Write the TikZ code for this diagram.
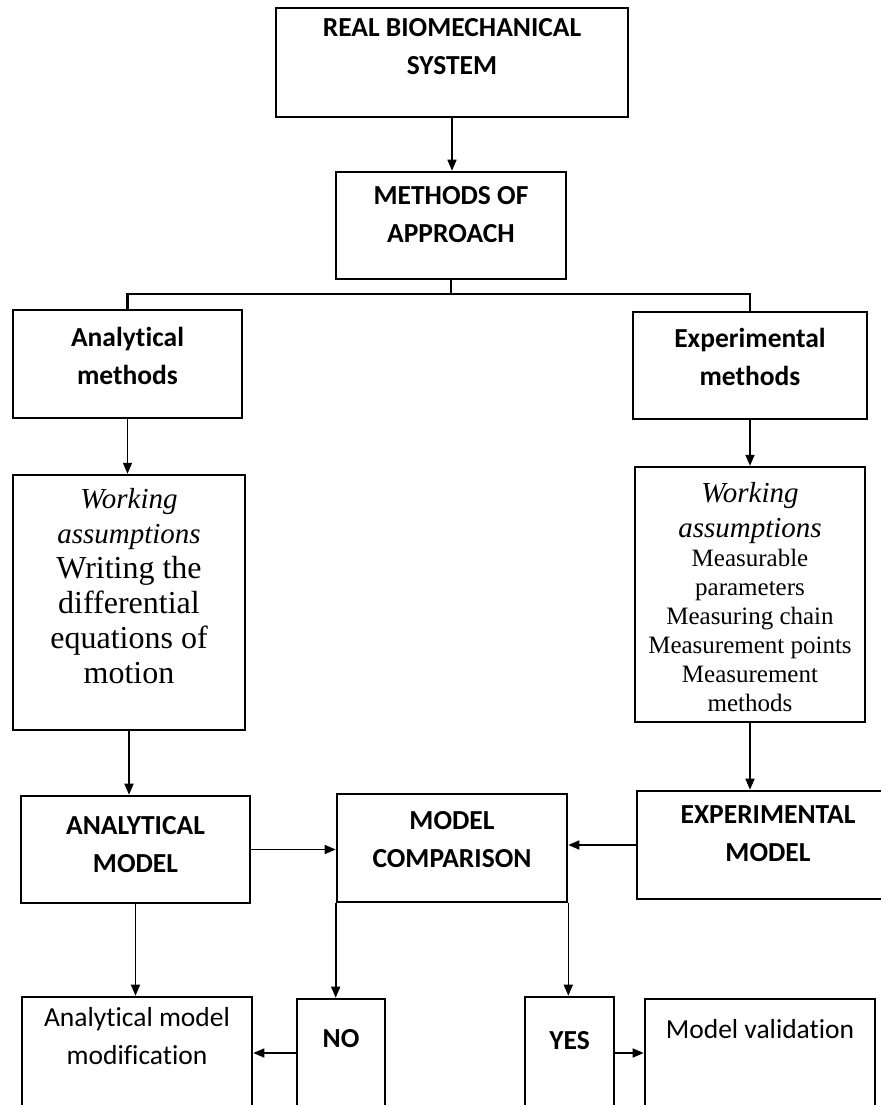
\documentclass[tikz,border=0pt]{standalone}
\usepackage{fontspec}
\setmainfont{Liberation Serif}
\newfontfamily\calibri{Carlito}[Ligatures=NoCommon]
\usepackage{tikz}
\usetikzlibrary{arrows.meta}
\tikzset{
    block/.style={draw, line width=1.3pt, inner sep=0pt, font=\calibri\bfseries\fontsize{13.75}{19}\selectfont},
    plain block/.style={block, font=\calibri\fontsize{13.75}{19}\selectfont},
    work block/.style={draw, line width=1.2pt, inner sep=0pt, font=\itshape\fontsize{14.5}{17.5}\selectfont},
    flow/.style={line width=0.8pt, -{Triangle[length=5.5pt,width=4.5pt]}},
    branch/.style={line width=1.1pt}
}
% width, height, space above first line, text
\newcommand{\boxtext}[4]{\parbox[c][#2][t]{#1}{\centering\vspace*{#3}\strut#4}}

\begin{document}
\begin{tikzpicture}[x=0.5pt,y=-0.5pt]
    \useasboundingbox (0,0) rectangle (881,1105);
    \node[block] (sys) at (452,62.5) {\boxtext{176pt}{54.5pt}{0.7pt}{REAL BIOMECHANICAL\\ SYSTEM}};
    \node[block] (meth) at (451,225.5) {\boxtext{115pt}{53.5pt}{2.7pt}{METHODS OF\\ APPROACH}};
    \node[block] (amet) at (127.5,364) {\boxtext{114.5pt}{54pt}{5pt}{Analytical\\ methods}};
    \node[block] (emet) at (750,365.5) {\boxtext{117pt}{53.5pt}{4.2pt}{Experimental\\ methods}};
    \node[work block] (awork) at (129,602.5) {\boxtext{116pt}{127.5pt}{4.25pt}{Working\\ assumptions\par
        \upshape\fontsize{16}{17.5}\selectfont Writing the\\ differential\\ equations of\\ motion}};
    \node[work block] (ework) at (750,594.5) {\boxtext{115pt}{127.5pt}{5.25pt}{Working\\ assumptions\par
        \upshape\fontsize{12.5}{14.5}\selectfont Measurable\\ parameters\\ Measuring chain\\ Measurement points\\ Measurement\\ methods}};
    \node[block] (amod) at (135.5,849.5) {\boxtext{114.5pt}{53.5pt}{5.7pt}{ANALYTICAL\\ MODEL}};
    \node[block] (comp) at (452,848) {\boxtext{115pt}{54pt}{4.2pt}{MODEL\\ COMPARISON}};
    \node[block] (emod) at (768,845) {\boxtext{131pt}{54pt}{2.7pt}{EXPERIMENTAL\\ MODEL}};
    \node[plain block] (amodif) at (137,1053) {\boxtext{115pt}{56pt}{1.2pt}{Analytical model\\ modification}};
    \node[block] (no) at (341,1053) {\boxtext{44pt}{54pt}{10.7pt}{NO}};
    \node[block] (yes) at (569.5,1053) {\boxtext{44.5pt}{56pt}{12.7pt}{YES}};
    \node[plain block] (valid) at (760,1053) {\boxtext{115pt}{54pt}{6.2pt}{Model validation}};

    \draw[flow] (sys.south) -- (sys.south |- meth.north);
    \draw[branch] (meth.south) -- ++(0,14) coordinate (split);
    \draw[branch] (split) -| (amet.north);
    \draw[branch] (split) -| (emet.north);
    \draw[flow] (amet.south) -- (amet.south |- awork.north);
    \draw[flow] (emet.south) -- (emet.south |- ework.north);
    \draw[flow] (awork.south) -- (awork.south |- amod.north);
    \draw[flow] (ework.south) -- (ework.south |- emod.north);
    \draw[flow] (amod.east) -- (amod.east -| comp.west);
    \draw[flow] (emod.west) -- (emod.west -| comp.east);
    \draw[flow] (amod.south) -- (amod.south |- amodif.north);
    \draw[flow] (comp.south west) -- (comp.south west |- no.north);
    \draw[flow] (comp.south east) -- (comp.south east |- yes.north);
    \draw[flow] (no.west) -- (no.west -| amodif.east);
    \draw[flow] (yes.east) -- (yes.east -| valid.west);
\end{tikzpicture}
\end{document}
